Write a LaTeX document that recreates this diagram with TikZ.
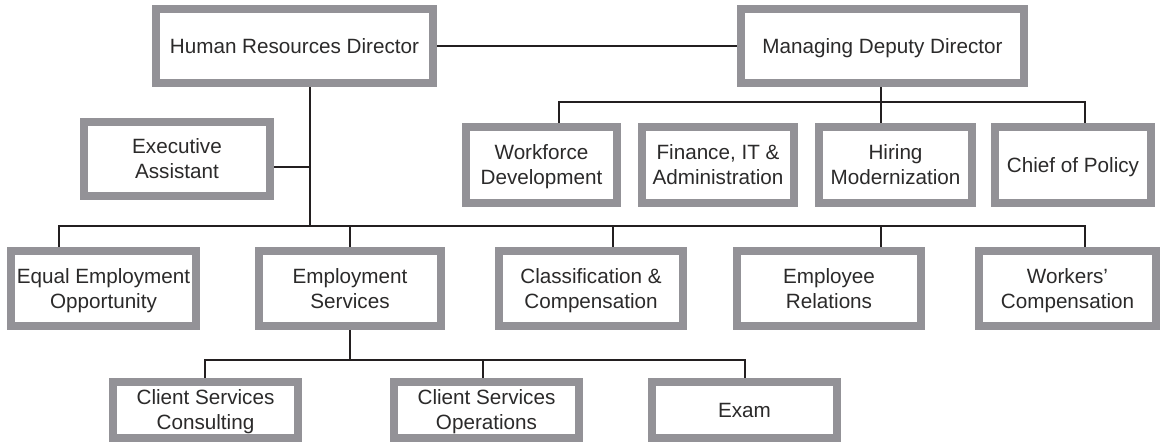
\documentclass[tikz,border=0pt]{standalone}
\usepackage{fontspec}
\setmainfont{Liberation Sans}
\usetikzlibrary{backgrounds}
\definecolor{boxgray}{HTML}{939297}
\definecolor{ink}{HTML}{231F20}
\definecolor{txt}{HTML}{2B2A2A}
\newcommand\orgbox[6]{%
  \pgfmathsetmacro\obw{(#4-#2-8)*0.75}%
  \pgfmathsetmacro\obh{(#5-#3-8)*0.75}%
  \node[obox, minimum width=\obw pt, minimum height=\obh pt] (#1) at ({(#2+#4)/2},{(#3+#5)/2})
    {\rule{0pt}{15.1pt}#6\rule[-4pt]{0pt}{0pt}};}
\begin{document}
\begin{tikzpicture}[x=0.75pt,y=-0.75pt,
  obox/.style={draw=boxgray, line width=6pt, fill=white, align=center, inner sep=0pt,
    text=txt, font=\fontsize{15.5}{18.75}\selectfont},
  conn/.style={draw=ink, line width=2.2pt}]
\useasboundingbox (0,0) rectangle (1166,443);
\orgbox{hr}{152}{5}{437}{87}{Human Resources Director}
\orgbox{mdd}{737}{5}{1028}{87}{Managing Deputy Director}
\orgbox{ea}{80}{118}{274}{200}{Executive\\Assistant}
\orgbox{wd}{462}{123}{621}{207}{Workforce\\Development}
\orgbox{fin}{638}{123}{798}{207}{Finance, IT \&\\Administration}
\orgbox{hm}{815}{123}{976}{207}{Hiring\\Modernization}
\orgbox{cp}{991}{123}{1155}{207}{Chief of Policy}
\orgbox{eeo}{7}{247}{200}{330}{Equal Employment\\Opportunity}
\orgbox{es}{255}{247}{445}{330}{Employment\\Services}
\orgbox{cc}{495}{247}{687}{330}{Classification \&\\Compensation}
\orgbox{er}{733}{247}{925}{330}{Employee\\Relations}
\orgbox{wc}{975}{247}{1160}{330}{Workers’\\Compensation}
\orgbox{csc}{109}{378}{302}{442}{Client Services\\Consulting}
\orgbox{cso}{390}{378}{583}{442}{Client Services\\Operations}
\orgbox{ex}{648}{378}{841}{442}{Exam}
\coordinate (hrj) at (310,226);
\coordinate (eaj) at (310,167);
\coordinate (b1) at (59,226);
\coordinate (b2) at (350,226);
\coordinate (b3) at (613,226);
\coordinate (b4) at (881,226);
\coordinate (b5) at (1085,226);
\coordinate (m1) at (559,102);
\coordinate (m3) at (881,102);
\coordinate (m4) at (1085,102);
\coordinate (s1) at (205,360);
\coordinate (s2) at (483,360);
\coordinate (s3) at (745,360);
\coordinate (sj) at (350,360);
\begin{scope}[on background layer]
\draw[conn] (hr.east) -- (mdd.west);
\draw[conn] (hr.south -| hrj) -- (hrj);
\draw[conn] (ea.east |- eaj) -- (eaj);
\draw[conn] (eeo.north -| b1) -- (b1) -- (b5) -- (wc.north -| b5);
\draw[conn] (b2) -- (es.north -| b2);
\draw[conn] (b3) -- (cc.north -| b3);
\draw[conn] (b4) -- (er.north -| b4);
\draw[conn] (wd.north -| m1) -- (m1) -- (m4) -- (cp.north -| m4);
\draw[conn] (mdd.south -| m3) -- (hm.north -| m3);
\draw[conn] (csc.north -| s1) -- (s1) -- (s3) -- (ex.north -| s3);
\draw[conn] (es.south -| sj) -- (sj);
\draw[conn] (s2) -- (cso.north -| s2);
\end{scope}
\end{tikzpicture}
\end{document}
